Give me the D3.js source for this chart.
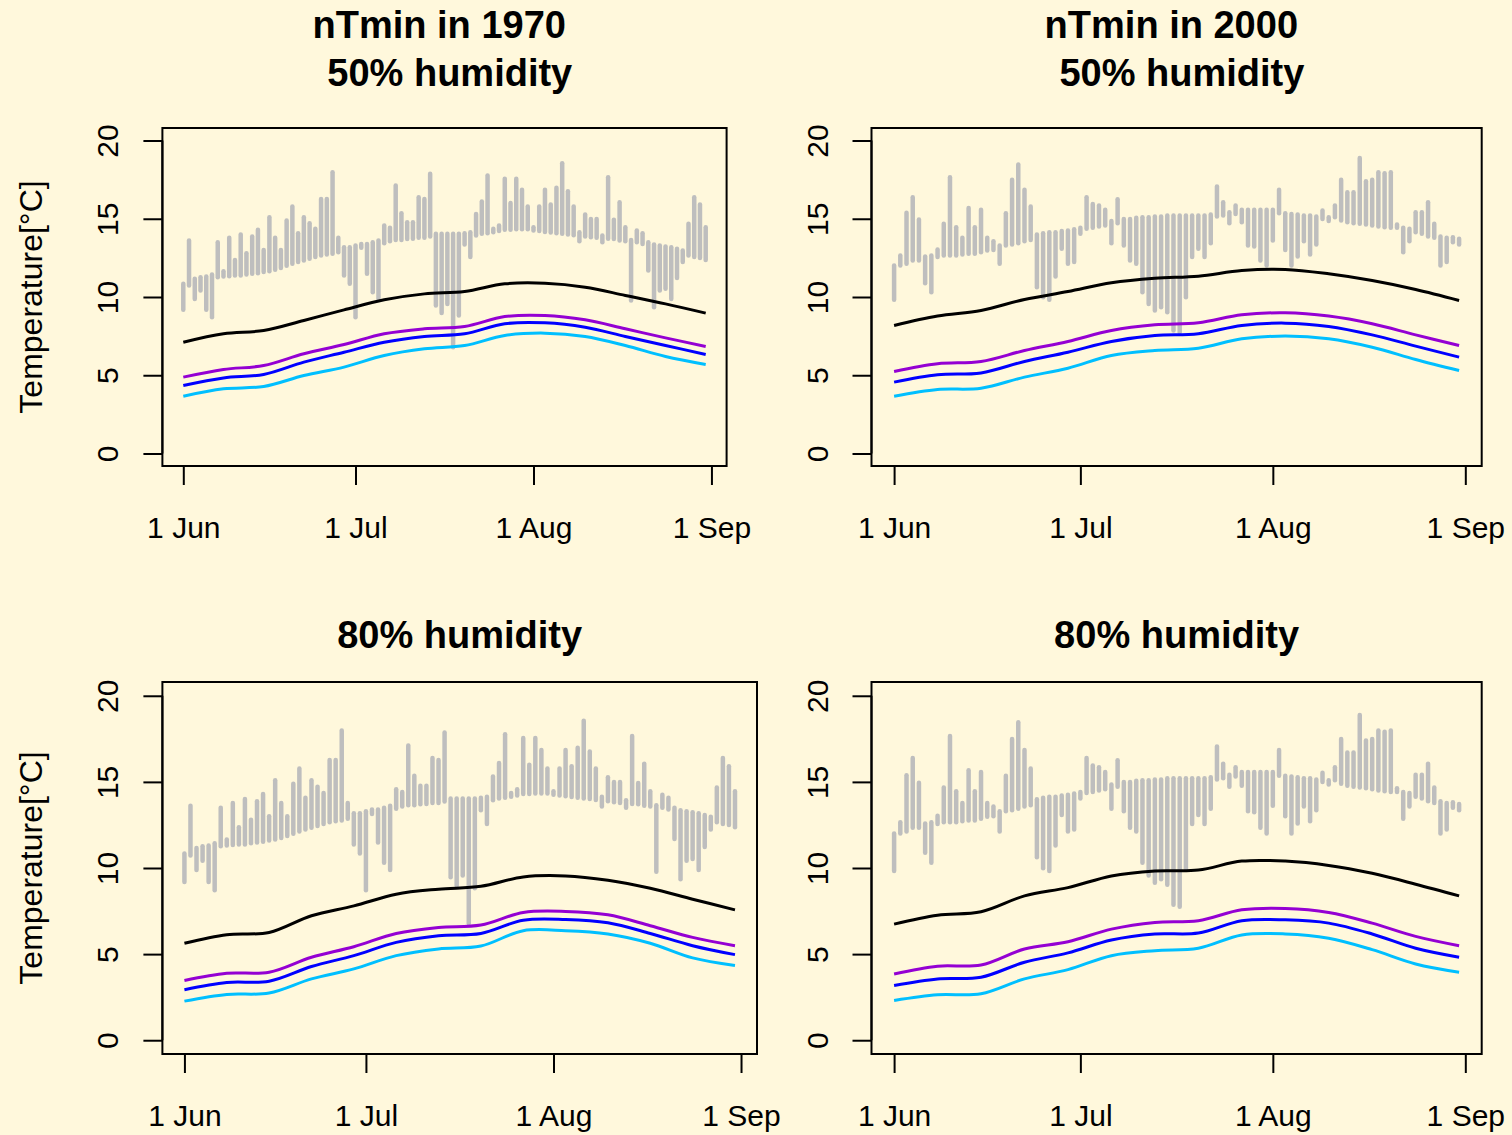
<!DOCTYPE html>
<html>
<head>
<meta charset="utf-8">
<title>nTmin</title>
<style>
  body { margin: 0; background: #FFF8DC; }
  svg { display: block; }
  text { font-family: "Liberation Sans", Arial, Helvetica, sans-serif; fill: #000; white-space: pre; }
</style>
</head>
<body>
<script src="https://d3js.org/d3.v7.min.js"></script>
<script>
// daily bars, day 0 = 1 Jun ... day 91 = 31 Aug
var lo1970 = [9.18,10.73,9.88,10.42,9.18,8.71,11.27,11.31,11.33,11.37,11.37,11.44,11.48,11.52,11.59,11.65,11.74,11.86,11.99,12.12,
  12.23,12.33,12.44,12.55,12.65,12.72,12.76,12.86,11.37,10.84,8.71,13.14,11.48,10.31,9.88,13.44,13.57,13.65,13.65,13.70,
  13.72,13.78,13.78,13.86,9.46,8.97,9.56,6.79,8.82,13.35,12.55,13.93,14.04,14.08,14.14,14.21,14.29,14.29,14.33,14.33,
  14.33,14.25,14.21,14.16,14.12,14.08,14.04,14.00,13.95,13.57,13.87,13.82,13.78,13.50,13.72,13.70,13.61,13.57,9.78,13.50,
  13.39,11.69,9.35,10.42,10.52,9.88,11.22,12.23,12.65,12.55,12.50,12.37];
var hi1970 = [10.84,13.61,11.16,11.27,11.31,11.44,13.50,11.65,13.78,12.37,14.00,12.80,13.87,14.29,13.01,15.10,13.78,13.01,14.89,15.78,
  14.08,15.10,14.72,14.36,16.27,16.27,17.98,13.78,13.18,13.18,13.29,13.39,13.39,13.50,13.61,14.57,14.42,17.12,15.36,14.78,
  14.78,16.38,16.27,17.87,14.04,14.04,14.04,14.04,14.04,14.08,14.14,15.31,16.10,17.76,14.36,14.57,17.55,16.00,17.55,16.85,
  15.78,14.46,15.78,16.85,15.91,16.98,18.55,16.76,15.78,14.14,15.27,14.99,14.99,13.93,17.66,14.93,16.06,14.46,13.65,14.25,
  14.08,13.50,13.35,13.29,13.23,13.18,13.08,12.97,14.68,16.38,15.91,14.46];
var lo2000 = [9.82,12.01,12.12,12.33,12.33,10.88,10.31,12.55,12.65,12.65,12.65,12.72,12.76,12.76,12.86,12.97,13.01,12.12,13.29,13.35,
  13.44,13.57,13.65,10.63,9.99,9.82,11.31,13.08,12.12,12.23,14.04,14.36,14.42,14.50,14.57,13.44,14.72,13.29,12.33,12.12,
  10.31,9.56,9.14,9.35,9.03,7.86,7.75,9.99,12.55,13.08,12.55,13.44,15.14,15.21,14.72,15.31,14.78,13.29,13.23,12.33,
  12.01,13.61,15.36,13.01,12.01,12.59,13.57,12.72,13.35,14.99,14.85,15.10,14.89,14.78,14.72,14.68,14.63,14.57,14.50,14.46,
  14.42,14.42,12.86,13.57,14.14,14.04,13.87,13.78,12.01,12.23,13.50,13.35];
var hi2000 = [12.01,12.65,15.38,16.38,14.95,12.59,12.65,13.04,14.68,17.66,14.46,13.78,15.68,14.46,15.57,13.78,13.57,13.29,15.36,17.49,
  18.47,16.85,15.78,13.99,14.08,14.14,14.14,14.21,14.25,14.33,14.42,16.38,15.95,15.85,15.57,14.85,16.25,14.99,14.99,15.06,
  15.10,15.10,15.14,15.14,15.21,15.21,15.21,15.21,15.21,15.21,15.21,15.27,17.06,16.06,15.42,15.85,15.57,15.57,15.57,15.57,
  15.57,15.57,16.85,15.36,15.31,15.27,15.21,15.21,15.14,15.53,15.10,15.85,17.49,16.70,16.70,18.89,17.40,17.49,17.98,17.91,
  17.98,14.63,14.42,14.36,15.42,15.42,16.06,14.68,13.87,13.78,13.82,13.72];

// smooth curves, read every 7 days
var curveDays = [0,7,14,21,28,35,42,49,56,63,70,77,84,91];
var tlBlack  = [7.11,7.65,7.86,8.50,9.18,9.82,10.20,10.35,10.84,10.88,10.63,10.10,9.56,8.97];
var tlPurple = [4.88,5.37,5.62,6.37,6.96,7.65,7.97,8.12,8.75,8.82,8.54,7.97,7.39,6.84];
var tlBlue   = [4.35,4.83,5.05,5.84,6.47,7.11,7.48,7.65,8.29,8.35,8.07,7.48,6.90,6.33];
var tlCyan   = [3.66,4.13,4.28,4.98,5.52,6.26,6.69,6.90,7.54,7.69,7.48,6.90,6.20,5.69];
var trBlack  = [8.18,8.78,9.14,9.84,10.35,10.91,11.20,11.33,11.69,11.76,11.48,11.05,10.48,9.78];
var trPurple = [5.24,5.73,5.88,6.58,7.16,7.86,8.22,8.35,8.86,8.99,8.78,8.29,7.58,6.90];
var trBlue   = [4.56,5.03,5.15,5.88,6.47,7.16,7.54,7.65,8.18,8.33,8.12,7.58,6.86,6.16];
var trCyan   = [3.66,4.09,4.17,4.88,5.45,6.26,6.58,6.73,7.33,7.50,7.33,6.79,6.01,5.30];
var blBlack  = [5.63,6.13,6.26,7.23,7.80,8.48,8.77,8.94,9.48,9.54,9.29,8.82,8.19,7.57];
var blPurple = [3.47,3.89,3.95,4.82,5.43,6.20,6.55,6.69,7.42,7.48,7.28,6.65,5.97,5.49];
var blBlue   = [2.93,3.35,3.43,4.28,4.91,5.68,6.07,6.20,6.97,7.01,6.82,6.20,5.49,4.97];
var blCyan   = [2.27,2.66,2.74,3.56,4.14,4.91,5.30,5.47,6.36,6.36,6.17,5.63,4.78,4.34];
var brBlack  = [6.74,7.26,7.46,8.38,8.86,9.54,9.83,9.88,10.40,10.40,10.15,9.69,9.06,8.38];
var brPurple = [3.85,4.30,4.37,5.30,5.72,6.45,6.84,6.94,7.57,7.65,7.42,6.80,6.03,5.49];
var brBlue   = [3.18,3.56,3.66,4.53,5.07,5.82,6.17,6.22,6.94,6.99,6.80,6.17,5.34,4.82];
var brCyan   = [2.31,2.64,2.70,3.56,4.10,4.91,5.20,5.34,6.11,6.17,5.92,5.26,4.43,3.95];

var curveColors = ["#000000", "#9400D3", "#0000FF", "#00BFFF"];
var tickDays = [0, 30, 61, 92];
var tickLabels = ["1 Jun", "1 Jul", "1 Aug", "1 Sep"];
var yTicks = [0, 5, 10, 15, 20];

var panels = [
  {box: [162.4, 128, 726.6, 466], lo: lo1970, hi: hi1970, curves: [tlBlack, tlPurple, tlBlue, tlCyan],
   title: ["nTmin in 1970 ", " 50% humidity"], titleY: [38, 86], ylab: true},
  {box: [871.5, 128, 1481.7, 466], lo: lo2000, hi: hi2000, curves: [trBlack, trPurple, trBlue, trCyan],
   title: ["nTmin in 2000 ", " 50% humidity"], titleY: [38, 86], ylab: false},
  {box: [162.4, 682, 757, 1054], lo: lo1970, hi: hi1970, curves: [blBlack, blPurple, blBlue, blCyan],
   title: ["80% humidity"], titleY: [648], ylab: true},
  {box: [871.5, 682, 1481.7, 1054], lo: lo2000, hi: hi2000, curves: [brBlack, brPurple, brBlue, brCyan],
   title: ["80% humidity"], titleY: [648], ylab: false}
];

var svg = d3.select("body").append("svg")
  .attr("width", 1512).attr("height", 1135);
svg.append("rect").attr("width", 1512).attr("height", 1135).attr("fill", "#FFF8DC");

panels.forEach(function(p) {
  var x0 = p.box[0], y0 = p.box[1], x1 = p.box[2], y1 = p.box[3];
  // R style 4% padding round the data range
  var x = d3.scaleLinear().domain([0 - 0.04 * 91, 91 + 0.04 * 91]).range([x0, x1]);
  var y = d3.scaleLinear().domain([-0.8, 20.8]).range([y1, y0]);
  var g = svg.append("g");

  // bars
  g.selectAll(".bar").data(p.lo).enter().append("line")
    .attr("x1", function(d, i) { return x(i); })
    .attr("x2", function(d, i) { return x(i); })
    .attr("y1", function(d) { return y(d); })
    .attr("y2", function(d, i) { return y(p.hi[i]); })
    .attr("stroke", "#BEBEBE").attr("stroke-width", 4.5).attr("stroke-linecap", "round");

  // curves
  var line = d3.line()
    .x(function(d, i) { return x(curveDays[i]); })
    .y(function(d) { return y(d); })
    .curve(d3.curveCatmullRom.alpha(0.5));
  p.curves.forEach(function(c, k) {
    g.append("path").attr("d", line(c))
      .attr("fill", "none").attr("stroke", curveColors[k]).attr("stroke-width", 3);
  });

  // box
  g.append("rect").attr("x", x0).attr("y", y0).attr("width", x1 - x0).attr("height", y1 - y0)
    .attr("fill", "none").attr("stroke", "#000").attr("stroke-width", 2);

  // x axis
  var xa = g.append("g").attr("transform", "translate(0," + y1 + ")")
    .call(d3.axisBottom(x).tickValues(tickDays).tickSize(19)
      .tickFormat(function(d, i) { return tickLabels[i]; }));
  xa.select(".domain").attr("d", "M" + x(0) + ",0H" + x(92)).attr("stroke-width", 2);
  xa.selectAll(".tick line").attr("stroke-width", 2);
  xa.selectAll("text").attr("font-size", 30).attr("font-family", null).attr("fill", "#000")
    .attr("y", null).attr("dy", null).attr("transform", "translate(0,72)");

  // y axis
  var ya = g.append("g").attr("transform", "translate(" + x0 + ",0)")
    .call(d3.axisLeft(y).tickValues(yTicks).tickSize(19).tickFormat(d3.format("d")));
  ya.select(".domain").attr("d", "M0," + y(0) + "V" + y(20)).attr("stroke-width", 2);
  ya.selectAll(".tick line").attr("stroke-width", 2);
  ya.selectAll("text").attr("font-size", 30).attr("font-family", null).attr("fill", "#000")
    .attr("x", null).attr("dy", null).attr("text-anchor", "middle")
    .attr("transform", "translate(-44,0) rotate(-90)");

  // titles
  p.title.forEach(function(t, i) {
    g.append("text").attr("x", (x0 + x1) / 2).attr("y", p.titleY[i])
      .attr("text-anchor", "middle").attr("font-size", 38).attr("font-weight", "bold").text(t);
  });

  if (p.ylab) {
    g.append("text")
      .attr("transform", "translate(42," + ((y0 + y1) / 2) + ") rotate(-90)")
      .attr("text-anchor", "middle").attr("font-size", 32).text("Temperature[°C]");
  }
});
</script>
</body>
</html>
